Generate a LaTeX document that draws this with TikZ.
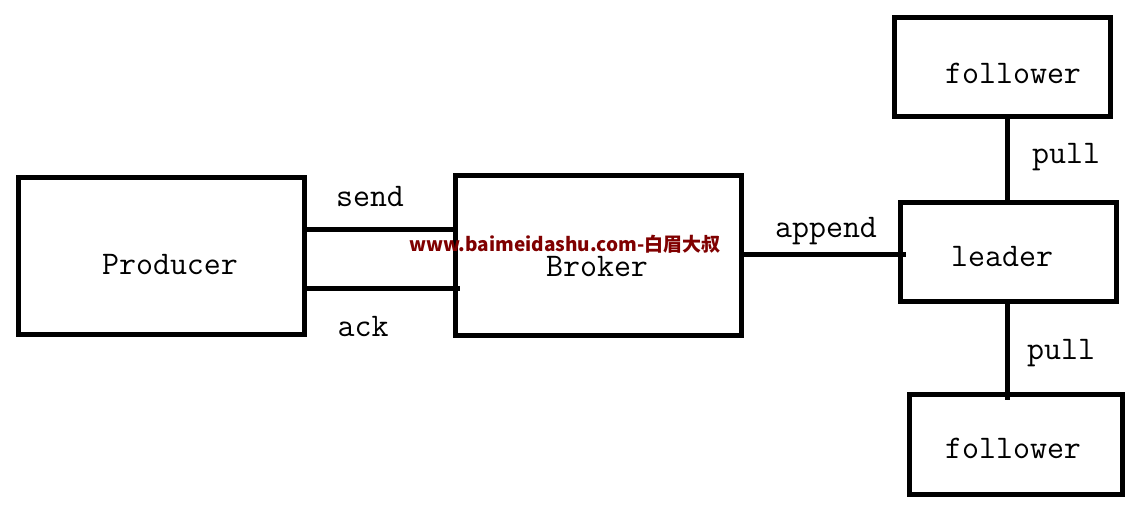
\documentclass[tikz,border=0pt]{standalone}
\usepackage{fontspec}
\newfontfamily\wmfont{Noto Sans CJK SC}
\definecolor{wmred}{RGB}{128,0,0}
\begin{document}
\begin{tikzpicture}[x=1pt,y=-1pt,
  box/.style={draw,line width=5pt,inner sep=0pt,outer sep=0pt,minimum width=#1},
  lbl/.style={font=\ttfamily\fontsize{33}{33}\selectfont,inner sep=0pt,anchor=center},
  link/.style={line width=5pt}]
\useasboundingbox[fill=white] (0,0) rectangle (1130,505);
% boxes
\node[box=286pt,minimum height=157pt] (prod) at (161.5,256) {};
\node[box=286pt,minimum height=159.5pt] (broker) at (598,255.75) {};
\node[box=216pt,minimum height=99pt] (ftop) at (1002.5,67) {};
\node[box=216pt,minimum height=99pt] (leader) at (1008.5,252) {};
\node[box=213pt,minimum height=100pt] (fbot) at (1016,444.5) {};
% box texts
\node[lbl] (tprod) at (170,265) {Producer};
\node[lbl] (tbroker) at (597,267) {Broker};
\node[lbl] (tftop) at (1013,73) {follower};
\node[lbl] (tleader) at (1002,257) {leader};
\node[lbl] (tfbot) at (1013,448) {follower};
% connectors
\draw[link] ([yshift=26pt]prod.east) -- ([yshift=26pt]prod.east -| broker.west);
\draw[link,shorten >=-5pt] ([yshift=-32pt]prod.east) -- ([yshift=-32pt]prod.east -| broker.west);
\draw[link,shorten >=-5pt] ([yshift=0.75pt]broker.east) -- ([yshift=0.75pt]broker.east -| leader.west);
\draw[link] ([xshift=-1.5pt]leader.north |- ftop.south) -- ([xshift=-1.5pt]leader.north);
\draw[link,shorten >=-5pt] ([xshift=-1.5pt]leader.south) -- ([xshift=-1.5pt]leader.south |- fbot.north);
% connector labels
\node[lbl] (tsend) at (370,197) {send};
\node[lbl] (tack) at (363,327) {ack};
\node[lbl] (tappend) at (826,231) {append};
\node[lbl] (tpull1) at (1066,157) {pull};
\node[lbl] (tpull2) at (1061,353) {pull};
% watermark
\node[inner sep=0pt,text=wmred,font=\wmfont\bfseries\fontsize{19}{19}\selectfont] (wm) at (565,244) {www.baimeidashu.com-白眉大叔};
\end{tikzpicture}
\end{document}
